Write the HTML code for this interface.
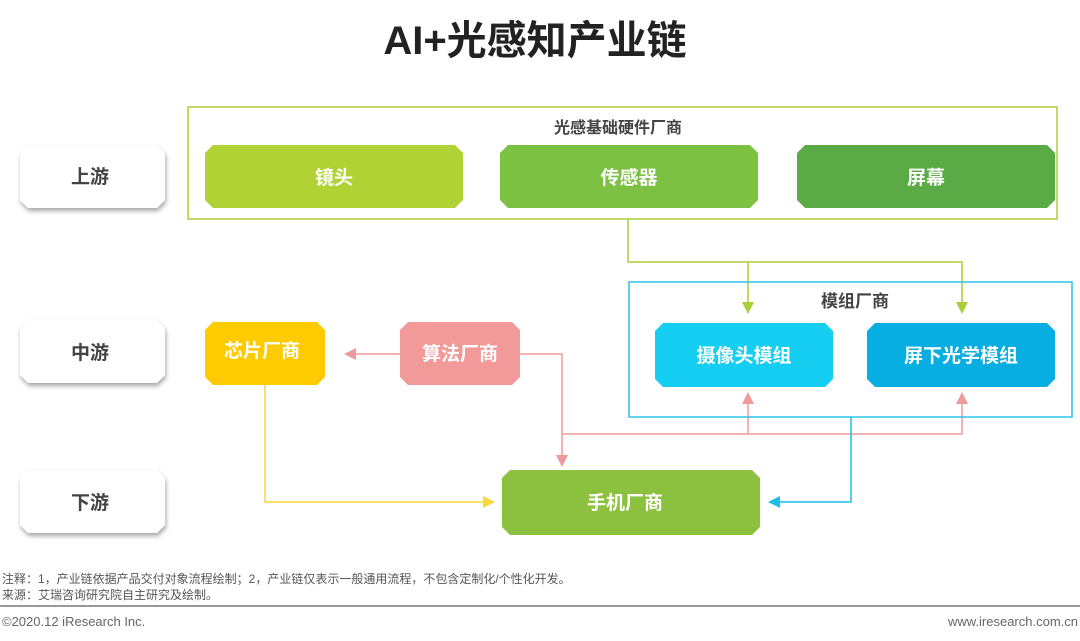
<!DOCTYPE html>
<html><head><meta charset="utf-8"><style>
body{margin:0;background:#fff;}
svg{display:block;font-family:"Liberation Sans","Noto Sans CJK SC",sans-serif;}
</style></head><body>
<svg width="1080" height="641" viewBox="0 0 1080 641" xmlns="http://www.w3.org/2000/svg">
<defs>
<filter id="sh" x="-20%" y="-20%" width="140%" height="160%"><feDropShadow dx="1" dy="3" stdDeviation="2.5" flood-color="#000" flood-opacity="0.35"/></filter>
<marker id="ag" markerWidth="8" markerHeight="8" refX="4" refY="4" orient="auto"><path d="M0,0 L8,4 L0,8 z" fill="#a9cf38"/></marker>
<marker id="ap" markerWidth="8" markerHeight="8" refX="4" refY="4" orient="auto"><path d="M0,0 L8,4 L0,8 z" fill="#ef9a9a"/></marker>
<marker id="ac" markerWidth="8" markerHeight="8" refX="4" refY="4" orient="auto"><path d="M0,0 L8,4 L0,8 z" fill="#1cbde6"/></marker>
<marker id="ay" markerWidth="8" markerHeight="8" refX="4" refY="4" orient="auto"><path d="M0,0 L8,4 L0,8 z" fill="#fad73a"/></marker>
</defs>
<text x="535" y="54" text-anchor="middle" font-size="40" font-weight="bold" fill="#222">AI+光感知产业链</text>

<g filter="url(#sh)" fill="#fff">
<path d="M28,145 H157 L165,153 V200 L157,208 H28 L20,200 V153 Z"/>
<path d="M28,320 H157 L165,328 V375 L157,383 H28 L20,375 V328 Z"/>
<path d="M28,470 H157 L165,478 V525 L157,533 H28 L20,525 V478 Z"/>
</g>
<g font-size="19" font-weight="bold" fill="#444" text-anchor="middle">
<text x="90" y="183">上游</text><text x="90" y="359">中游</text><text x="90" y="509">下游</text>
</g>

<g fill="none" stroke-width="1.5">
<path d="M628,219 V262 H962 V308" stroke="#a9cf38" marker-end="url(#ag)"/>
<path d="M748,262 V308" stroke="#a9cf38" marker-end="url(#ag)"/>
<path d="M400,354 H350" stroke="#ef9a9a" marker-end="url(#ap)"/>
<path d="M520,354 H562 V461" stroke="#ef9a9a" marker-end="url(#ap)"/>
<path d="M562,434 H962 V398" stroke="#ef9a9a" marker-end="url(#ap)"/>
<path d="M748,434 V398" stroke="#ef9a9a" marker-end="url(#ap)"/>
<path d="M851,417 V502 H774" stroke="#1cbde6" marker-end="url(#ac)"/>
<path d="M265,385 V502 H489" stroke="#fad73a" marker-end="url(#ay)"/>
</g>

<rect x="188" y="107" width="869" height="112" fill="none" stroke="#a9cf38" stroke-width="1.5"/>
<text x="618" y="133" text-anchor="middle" font-size="16" font-weight="bold" fill="#444">光感基础硬件厂商</text>
<rect x="629" y="282" width="443" height="135" fill="none" stroke="#2ec4e6" stroke-width="1.5"/>
<text x="855" y="307" text-anchor="middle" font-size="17" font-weight="bold" fill="#444">模组厂商</text>

<path d="M213,145 H455 L463,153 V200 L455,208 H213 L205,200 V153 Z" fill="#b0d234"/>
<path d="M508,145 H750 L758,153 V200 L750,208 H508 L500,200 V153 Z" fill="#7dc142"/>
<path d="M805,145 H1047 L1055,153 V200 L1047,208 H805 L797,200 V153 Z" fill="#5aaa46"/>
<path d="M663,323 H825 L833,331 V379 L825,387 H663 L655,379 V331 Z" fill="#16cdf2"/>
<path d="M875,323 H1047 L1055,331 V379 L1047,387 H875 L867,379 V331 Z" fill="#07aee2"/>
<path d="M213,322 H317 L325,330 V377 L317,385 H213 L205,377 V330 Z" fill="#fecb00"/>
<path d="M408,322 H512 L520,330 V377 L512,385 H408 L400,377 V330 Z" fill="#f29a9a"/>
<path d="M510,470 H752 L760,478 V527 L752,535 H510 L502,527 V478 Z" fill="#8bc13f"/>
<g font-size="19" font-weight="bold" fill="#fff" text-anchor="middle">
<text x="334" y="184">镜头</text>
<text x="629" y="184">传感器</text>
<text x="926" y="184">屏幕</text>
<text x="744" y="362">摄像头模组</text>
<text x="961" y="362">屏下光学模组</text>
<text x="262" y="357">芯片厂商</text>
<text x="460" y="360">算法厂商</text>
<text x="625" y="509">手机厂商</text>
</g>

<g font-size="12" fill="#555">
<text x="2" y="583">注释：1，产业链依据产品交付对象流程绘制；2，产业链仅表示一般通用流程，不包含定制化/个性化开发。</text>
<text x="2" y="599">来源：艾瑞咨询研究院自主研究及绘制。</text>
</g>
<rect x="0" y="605" width="1080" height="2" fill="#999"/>
<text x="2" y="626" font-size="13" fill="#666">©2020.12 iResearch Inc.</text>
<text x="1078" y="626" font-size="13" fill="#666" text-anchor="end">www.iresearch.com.cn</text>
</svg>
</body></html>
